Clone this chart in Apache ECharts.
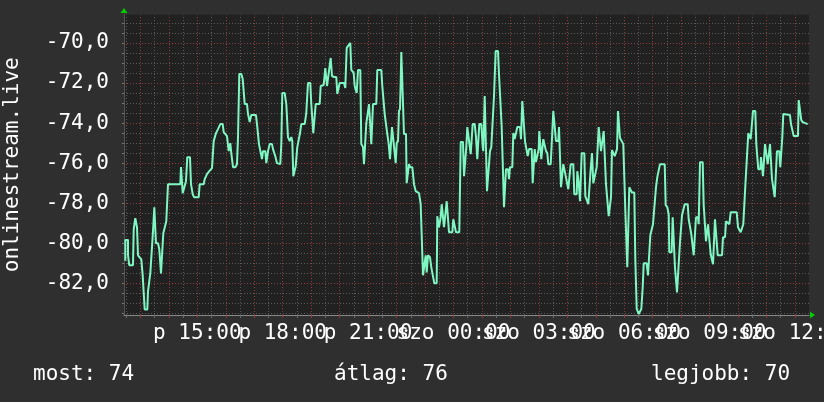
<!DOCTYPE html>
<html><head><meta charset="utf-8">
<script src="https://cdn.jsdelivr.net/npm/echarts@6/dist/echarts.min.js"></script>
<style>html,body{margin:0;padding:0;background:#2f2f2f}#c{width:824px;height:402px}</style>
</head><body><div id="c"></div>
<script>
// time in hours (from 00:00 of day 1; 24 = szo 00:00)
const times = [
12.470,12.471,12.565,12.566,12.610,12.740,12.765,12.821,12.881,12.916,13.032,13.081,13.151,13.243,13.267,13.348,13.408,13.443,13.489,13.548,
13.619,13.664,13.724,13.805,13.875,13.910,13.970,14.402,14.427,14.487,14.557,14.602,14.648,14.743,14.778,14.838,14.884,15.049,15.084,15.224,
15.260,15.340,15.421,15.516,15.576,15.657,15.727,15.808,15.892,15.927,16.043,16.103,16.159,16.194,16.254,16.335,16.394,16.430,16.475,16.546,
16.595,16.665,16.746,16.781,16.841,16.897,17.062,17.108,17.167,17.227,17.273,17.308,17.389,17.424,17.484,17.543,17.624,17.659,17.740,17.800,
17.835,17.916,17.951,17.986,18.071,18.127,18.186,18.246,18.302,18.338,18.373,18.422,18.457,18.513,18.573,18.608,18.654,18.773,18.829,18.889,
18.970,19.005,19.075,19.125,19.160,19.300,19.335,19.441,19.497,19.557,19.627,19.687,19.732,19.803,19.884,19.919,20.003,20.154,20.200,20.249,
20.319,20.376,20.411,20.495,20.530,20.600,20.646,20.727,20.762,20.822,20.857,20.903,20.938,20.997,21.033,21.092,21.114,21.149,21.173,21.289,
21.324,21.465,21.500,21.549,21.584,21.640,21.676,21.725,21.770,21.816,21.841,21.911,21.971,22.006,22.052,22.087,22.122,22.147,22.168,22.238,
22.262,22.333,22.357,22.403,22.438,22.473,22.554,22.614,22.674,22.789,22.849,22.905,22.930,23.000,23.025,23.060,23.106,23.176,23.222,23.292,
23.327,23.411,23.432,23.492,23.552,23.587,23.643,23.668,23.727,23.763,23.808,23.844,23.960,23.995,24.054,24.089,24.205,24.255,24.335,24.371,
24.406,24.452,24.487,24.557,24.606,24.641,24.676,24.747,24.792,24.838,24.887,24.908,24.979,25.028,25.049,25.098,25.154,25.179,25.249,25.284,
25.330,25.379,25.425,25.484,25.565,25.600,25.660,25.695,25.730,25.776,25.822,25.846,25.917,25.952,25.987,26.068,26.103,26.152,26.198,26.244,
26.338,26.373,26.419,26.479,26.514,26.574,26.609,26.654,26.749,26.784,26.830,26.855,26.900,26.946,26.995,27.016,27.066,27.087,27.136,27.157,
27.227,27.252,27.298,27.333,27.417,27.452,27.487,27.508,27.568,27.603,27.684,27.709,27.744,27.779,27.825,27.860,27.919,27.944,28.000,28.035,
28.095,28.120,28.211,28.246,28.331,28.352,28.401,28.447,28.482,28.506,28.598,28.633,28.703,28.738,28.798,28.822,28.868,28.914,28.984,29.033,
29.069,29.104,29.149,29.184,29.244,29.279,29.325,29.360,29.420,29.455,29.501,29.536,29.571,29.617,29.666,29.711,29.747,29.782,29.828,29.852,
29.922,29.968,30.017,30.038,30.087,30.108,30.158,30.179,30.239,30.274,30.355,30.390,30.414,30.439,30.509,30.566,30.601,30.650,30.685,30.790,
30.836,30.882,30.917,30.966,31.011,31.071,31.117,31.163,31.222,31.257,31.423,31.458,31.514,31.563,31.584,31.668,31.703,31.760,31.784,31.830,
31.855,31.925,31.960,32.006,32.031,32.090,32.125,32.231,32.266,32.322,32.358,32.407,32.442,32.487,32.522,32.593,32.617,32.663,32.758,32.793,
32.828,32.874,32.909,32.944,33.004,33.039,33.085,33.120,33.166,33.190,33.250,33.285,33.436,33.471,33.542,33.577,33.647,33.693,33.742,33.953,
33.998,34.044,34.093,34.139,34.184,34.234,34.255,34.314,34.360,34.409,34.444,34.490,34.525,34.606,34.641,34.676,34.711,34.782,34.806,34.841,
34.877,34.912,34.947,35.007,35.042,35.077,35.123,35.158,35.193,35.253,35.288,35.333,35.368,35.449,35.484,35.519,35.555,35.590,35.825,35.860,
35.920,35.955,36.106,36.131,36.187,36.222,36.271,36.447
];
const values = [
-80.87,-79.83,-79.83,-80.6,-81.1,-81.1,-79.3,-78.75,-79.2,-80.6,-80.8,-81.6,-83.3,-83.3,-82.4,-81.5,-81.5,-79.4,-78.2,-80.0,
-80.0,-80.3,-81.5,-79.5,-79.5,-78.9,-77.05,-77.05,-76.2,-77.5,-77.5,-76.9,-75.7,-75.7,-77.05,-77.55,-77.7,-77.7,-77.05,-77.05,
-76.8,-76.55,-76.4,-76.25,-74.9,-74.5,-74.3,-74.05,-74.05,-74.45,-74.65,-75.4,-75.0,-75.5,-76.2,-76.2,-76.05,-74.7,-71.55,-71.55,
-71.8,-73.05,-73.05,-73.55,-73.95,-73.6,-73.6,-74.2,-75.05,-75.05,-75.8,-75.4,-75.4,-76.0,-75.4,-75.05,-75.05,-75.3,-75.65,-76.0,
-76.05,-76.05,-75.05,-72.5,-72.5,-73.05,-74.7,-74.9,-74.7,-74.9,-76.65,-76.65,-76.15,-75.2,-75.2,-74.5,-74.05,-74.05,-73.5,-72.0,
-72.0,-73.05,-74.5,-74.5,-73.05,-73.05,-72.15,-72.1,-71.25,-72.15,-72.15,-70.75,-71.65,-71.7,-71.7,-72.55,-72.0,-72.0,-72.25,-70.25,
-70.25,-70.0,-71.35,-71.5,-72.15,-72.5,-71.35,-71.35,-75.05,-75.2,-76.05,-76.05,-74.0,-73.95,-73.05,-73.05,-75.05,-75.05,-73.05,-73.05,
-71.35,-71.35,-72.15,-72.15,-73.55,-73.55,-74.55,-75.05,-75.8,-75.8,-74.2,-74.2,-76.0,-75.0,-74.9,-73.4,-73.3,-71.9,-70.45,-70.45,
-74.55,-74.55,-77.0,-77.0,-76.05,-76.2,-76.2,-77.05,-77.4,-77.5,-78.05,-78.05,-81.6,-81.6,-80.6,-81.45,-80.6,-80.7,-81.2,-81.2,
-82.0,-82.0,-78.65,-79.2,-78.7,-78.05,-78.05,-79.2,-79.2,-77.9,-77.9,-79.45,-79.45,-78.8,-78.8,-79.45,-79.45,-74.95,-74.95,-76.65,
-76.65,-75.2,-74.2,-74.2,-75.55,-75.55,-74.05,-74.05,-74.7,-75.8,-75.8,-74.05,-74.05,-75.2,-75.4,-72.65,-72.65,-77.4,-77.4,-75.4,
-75.2,-75.2,-72.65,-70.4,-70.4,-71.55,-71.55,-74.2,-75.9,-78.2,-78.2,-76.3,-76.3,-76.8,-76.2,-76.2,-74.5,-74.8,-74.8,-74.2,
-74.2,-74.8,-72.9,-72.9,-74.9,-74.9,-75.65,-75.3,-75.3,-77.0,-77.0,-75.3,-75.95,-75.95,-75.3,-74.4,-74.4,-75.8,-75.8,-74.8,
-74.8,-75.4,-75.5,-76.05,-76.05,-75.05,-75.05,-73.4,-73.4,-74.9,-74.9,-74.2,-74.2,-77.2,-77.2,-76.05,-76.05,-76.65,-76.65,-77.3,
-77.3,-76.05,-76.05,-77.55,-77.55,-76.4,-77.0,-77.9,-77.9,-75.5,-75.5,-77.65,-77.65,-78.05,-78.05,-76.3,-75.5,-77.0,-77.05,-76.2,
-76.2,-74.2,-74.2,-75.4,-75.4,-74.4,-74.4,-77.05,-77.05,-78.65,-78.65,-77.7,-75.35,-75.35,-75.65,-75.65,-75.3,-73.4,-73.4,-74.75,
-74.75,-75.05,-75.05,-78.3,-78.3,-81.2,-81.2,-77.2,-77.2,-77.47,-77.47,-80.8,-80.8,-83.28,-83.53,-83.53,-83.28,-82.2,-81.0,-81.0,
-81.6,-81.6,-79.6,-79.6,-79.05,-79.05,-77.2,-76.7,-76.7,-76.05,-76.05,-78.1,-78.2,-78.55,-80.45,-80.45,-78.7,-78.7,-81.2,-81.2,
-82.45,-82.45,-79.95,-79.95,-78.6,-78.6,-78.05,-78.05,-78.8,-78.8,-79.55,-79.55,-80.6,-80.6,-78.7,-78.7,-79.05,-75.95,-75.95,-78.1,
-78.1,-79.9,-79.9,-79.05,-79.05,-80.55,-80.55,-81.05,-81.05,-78.8,-78.8,-80.6,-80.6,-79.7,-79.7,-78.9,-78.9,-79.05,-78.45,-78.45,
-79.2,-79.2,-79.45,-79.45,-79.05,-79.05,-77.15,-77.15,-74.5,-74.5,-74.8,-74.8,-73.4,-73.4,-75.05,-75.05,-76.3,-76.3,-75.7,-75.7,
-76.65,-76.65,-75.05,-75.05,-76.05,-76.05,-75.05,-75.05,-76.8,-76.8,-77.7,-77.7,-75.4,-75.4,-76.2,-76.2,-74.7,-73.55,-73.6,-74.05,
-74.05,-74.65,-74.65,-72.85,-72.85,-73.85,-73.95,-74.05
];
const xTickHours = [15, 18, 21, 24, 27, 30, 33, 36];
const xTickLabels = ['p 15:00', 'p 18:00', 'p 21:00', 'szo 00:00', 'szo 03:00', 'szo 06:00', 'szo 09:00', 'szo 12:00'];
const yTickValues = [-82, -80, -78, -76, -74, -72, -70];
const yTitle = 'onlinestream.live';
const statLabels = ['most: 74', 'átlag: 76', 'legjobb: 70'];

const X_MIN = 12.424, X_MAX = 36.493, Y_MIN = -83.58, Y_MAX = -68.58;
const FONT = 'DejaVu Sans Mono';

const hourMajor = [], hourMinor = [], yMajor = [], yMinor = [], yAllTicks = [];
for (let h = 13; h <= 36; h++) hourMajor.push(h);
for (let h = 12.5; h < 36.49; h += 1) hourMinor.push(h);
for (let v = -83.5; v <= -69; v += 0.5) { yAllTicks.push(v); if (Math.abs(v % 2) < 1e-9) yMajor.push(v); else yMinor.push(v); }
// split labels over two axes so that neighbouring (overlapping) labels are all drawn, as in the original
const labelsA = xTickHours.filter((h, i) => i % 2 === 0);
const labelsB = xTickHours.filter((h, i) => i % 2 === 1);
const fmtX = v => { const i = xTickHours.findIndex(h => Math.abs(h - v) < 1e-6); return i >= 0 ? xTickLabels[i] : ''; };

const minorStyle = {color: '#5a5a5a', type: [1, 2], width: 1};
const majorStyle = {color: '#8e3c3c', type: [1, 2], width: 1};
function gridSeries(name, list, key, style, z) {
  return {
    name, type: 'line', data: [], silent: true, z,
    markLine: {
      silent: true, symbol: ['none', 'none'], animation: false,
      label: {show: false}, emphasis: {disabled: true},
      lineStyle: style,
      data: list.map(v => ({[key]: v}))
    }
  };
}
const labelCommon = {color: '#ffffff', fontFamily: FONT, fontSize: 21, margin: 8,
  hideOverlap: false, showMinLabel: true, showMaxLabel: true, formatter: fmtX};

const chart = echarts.init(document.getElementById('c'), null, {renderer: 'canvas'});
chart.setOption({
  backgroundColor: '#2f2f2f',
  animation: false,
  grid: {left: 124, right: 15, top: 14.5, bottom: 87, containLabel: false, outerBoundsMode: 'none',
         show: true, backgroundColor: '#212121', borderWidth: 0},
  xAxis: [{
    type: 'value', min: X_MIN, max: X_MAX, position: 'bottom',
    axisLine: {show: true, onZero: false, lineStyle: {color: '#8a8a8a', width: 1}},
    axisTick: {show: true, customValues: hourMajor, length: 3, lineStyle: {color: '#8e3c3c'}},
    splitLine: {show: false},
    axisLabel: Object.assign({customValues: labelsA}, labelCommon)
  }, {
    type: 'value', min: X_MIN, max: X_MAX, position: 'bottom', offset: 0,
    axisLine: {show: false, onZero: false},
    axisTick: {show: true, customValues: hourMinor, length: 3, lineStyle: {color: '#6a6a6a'}},
    splitLine: {show: false},
    axisLabel: Object.assign({customValues: labelsB}, labelCommon)
  }],
  yAxis: {
    type: 'value', min: Y_MIN, max: Y_MAX,
    name: yTitle, nameLocation: 'middle', nameRotate: 90, nameGap: 101,
    nameTextStyle: {color: '#ffffff', fontFamily: FONT, fontSize: 21},
    axisLine: {show: true, lineStyle: {color: '#555555', width: 1}},
    axisTick: {show: true, customValues: yAllTicks, length: 2, lineStyle: {color: '#777777'}},
    splitLine: {show: false},
    axisLabel: {
      customValues: yTickValues, color: '#ffffff', fontFamily: FONT, fontSize: 21, margin: 15,
      hideOverlap: false, showMinLabel: true, showMaxLabel: true,
      formatter: v => v.toFixed(1).replace('.', ',')
    }
  },
  series: [
    gridSeries('minorX', hourMinor, 'xAxis', minorStyle, 1),
    gridSeries('minorY', yMinor, 'yAxis', minorStyle, 1),
    gridSeries('majorX', hourMajor, 'xAxis', majorStyle, 2),
    gridSeries('majorY', yMajor, 'yAxis', majorStyle, 2),
    {
      name: 'value', type: 'line', z: 5, showSymbol: false, symbol: 'none',
      lineStyle: {color: '#7ff7c2', width: 2},
      data: times.map((t, i) => [t, values[i]])
    }
  ],
  graphic: [
    {type: 'polygon', shape: {points: [[120.5, 13], [127.5, 13], [124, 8]]}, style: {fill: '#00cc00'}, z: 100},
    {type: 'polygon', shape: {points: [[810, 311.5], [810, 318.5], [815, 315]]}, style: {fill: '#00cc00'}, z: 100},
    {type: 'text', x: 33, y: 375, style: {text: statLabels[0], fill: '#ffffff', font: '21px ' + FONT, verticalAlign: 'middle'}},
    {type: 'text', x: 334, y: 375, style: {text: statLabels[1], fill: '#ffffff', font: '21px ' + FONT, verticalAlign: 'middle'}},
    {type: 'text', x: 651, y: 375, style: {text: statLabels[2], fill: '#ffffff', font: '21px ' + FONT, verticalAlign: 'middle'}}
  ]
});
</script></body></html>
